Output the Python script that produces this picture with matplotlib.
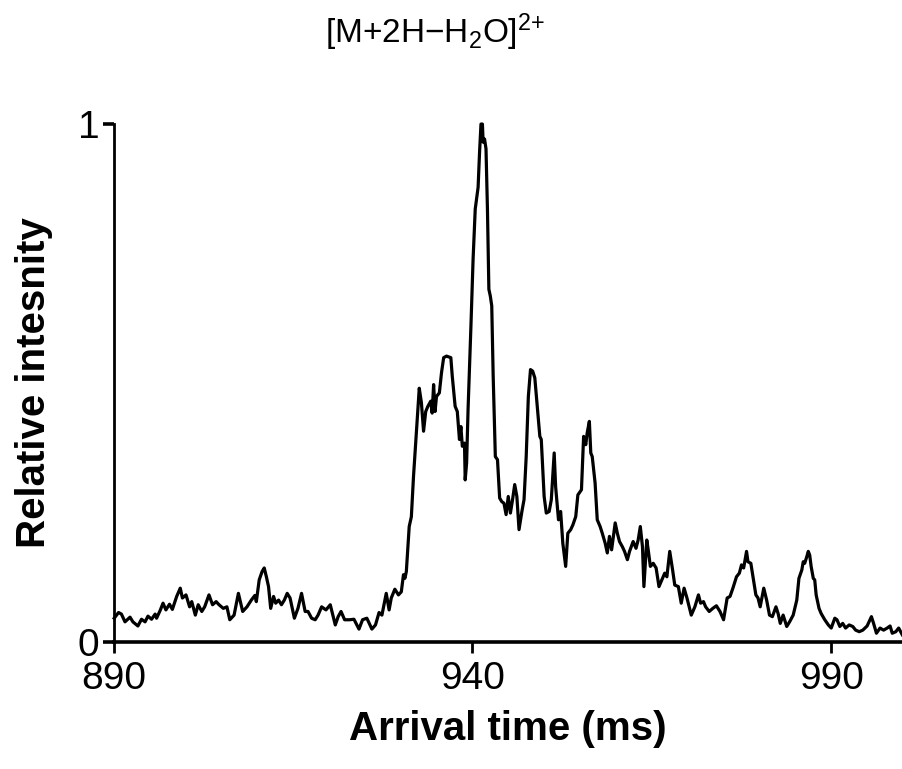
import matplotlib
matplotlib.use("Agg")
import matplotlib.pyplot as plt

plt.rcParams["font.family"] = ["Liberation Sans", "DejaVu Sans"]
plt.rcParams["mathtext.fontset"] = "custom"
plt.rcParams["mathtext.rm"] = "Liberation Sans"
plt.rcParams["mathtext.it"] = "Liberation Sans:italic"

# arrival time (ms) and relative intensity
arrival_time = [
    890.1, 890.7, 891.1, 891.6, 892.3, 892.7, 893.4, 893.9, 894.4, 894.8,
    895.3, 895.8, 896.0, 896.5, 896.9, 897.3, 897.8, 898.2, 898.8, 899.3,
    899.6, 900.1, 900.6, 900.9, 901.4, 901.8, 902.3, 902.7, 903.3, 903.8,
    904.3, 904.7, 905.3, 905.8, 906.2, 906.8, 907.4, 908.0, 908.6, 909.2,
    909.7, 909.9, 910.3, 910.7, 911.0, 911.3, 911.6, 911.9, 912.3, 912.6,
    913.0, 913.4, 913.8, 914.2, 914.6, 915.2, 915.7, 916.2, 916.7, 917.1,
    917.6, 918.1, 918.5, 919.0, 919.6, 920.2, 920.9, 921.3, 921.7, 922.2,
    922.9, 923.5, 924.2, 924.7, 925.3, 926.0, 926.5, 927.0, 927.4, 928.0,
    928.4, 928.7, 929.2, 929.7, 930.1, 930.4, 930.6, 930.8, 931.2, 931.5,
    931.8, 932.1, 932.6, 932.9, 933.2, 933.5, 933.8, 934.2, 934.4, 934.6,
    934.8, 935.0, 935.4, 935.7, 936.0, 936.4, 937.0, 937.2, 937.6, 937.9,
    938.2, 938.4, 938.6, 938.9, 939.0, 939.2, 939.4, 939.8, 940.1, 940.4,
    940.8, 941.0, 941.2, 941.4, 941.5, 941.7, 941.9, 942.1, 942.3, 942.5,
    942.7, 942.9, 943.2, 943.5, 943.8, 944.1, 944.4, 944.7, 945.0, 945.3,
    945.6, 945.9, 946.2, 946.5, 946.9, 947.2, 947.5, 947.8, 948.1, 948.4,
    948.7, 949.0, 949.4, 949.6, 950.0, 950.3, 950.7, 951.0, 951.4, 951.6,
    952.0, 952.3, 952.6, 953.0, 953.3, 953.7, 954.0, 954.4, 954.7, 955.2,
    955.5, 955.8, 956.0, 956.3, 956.5, 956.7, 957.1, 957.4, 957.8, 958.1,
    958.5, 958.8, 959.1, 959.4, 959.9, 960.2, 960.5, 960.9, 961.2, 961.6,
    961.9, 962.4, 962.8, 963.1, 963.4, 963.7, 963.9, 964.3, 964.5, 964.8,
    965.2, 965.6, 966.0, 966.4, 966.8, 967.1, 967.5, 967.9, 968.2, 968.7,
    969.1, 969.5, 969.9, 970.5, 971.0, 971.5, 971.8, 972.2, 972.5, 973.0,
    973.5, 974.0, 974.5, 975.0, 975.5, 975.9, 976.3, 976.8, 977.2, 977.5,
    977.8, 978.2, 978.4, 978.8, 979.1, 979.5, 979.8, 980.1, 980.6, 981.0,
    981.4, 981.8, 982.3, 982.6, 982.9, 983.3, 983.8, 984.2, 984.7, 985.2,
    985.5, 985.9, 986.1, 986.3, 986.6, 986.8, 987.0, 987.2, 987.5, 987.7,
    987.9, 988.3, 988.6, 989.1, 989.6, 990.0, 990.5, 990.8, 991.2, 991.6,
    992.0, 992.5, 993.0, 993.4, 993.9, 994.4, 995.0, 995.6, 995.9, 996.3,
    996.8, 997.3, 997.8, 998.2, 998.5, 999.0, 999.4, 999.9,
]
intensity = [
    0.046, 0.057, 0.054, 0.039, 0.048, 0.039, 0.031, 0.044, 0.039, 0.050,
    0.044, 0.054, 0.046, 0.061, 0.075, 0.062, 0.073, 0.063, 0.088, 0.104,
    0.085, 0.091, 0.068, 0.078, 0.052, 0.072, 0.059, 0.068, 0.091, 0.072,
    0.078, 0.072, 0.065, 0.068, 0.043, 0.052, 0.094, 0.059, 0.068, 0.081,
    0.090, 0.078, 0.120, 0.136, 0.143, 0.126, 0.107, 0.065, 0.088, 0.075,
    0.081, 0.072, 0.081, 0.094, 0.085, 0.046, 0.065, 0.094, 0.059, 0.059,
    0.046, 0.043, 0.052, 0.068, 0.062, 0.072, 0.033, 0.049, 0.059, 0.043,
    0.043, 0.044, 0.025, 0.043, 0.046, 0.025, 0.033, 0.057, 0.052, 0.094,
    0.062, 0.085, 0.102, 0.091, 0.097, 0.130, 0.123, 0.136, 0.223, 0.242,
    0.320, 0.384, 0.490, 0.462, 0.407, 0.445, 0.455, 0.465, 0.442, 0.497,
    0.445, 0.474, 0.481, 0.520, 0.549, 0.552, 0.549, 0.513, 0.455, 0.445,
    0.391, 0.416, 0.378, 0.384, 0.313, 0.346, 0.449, 0.610, 0.739, 0.836,
    0.878, 0.945, 1.000, 1.000, 0.965, 0.971, 0.952, 0.836, 0.681, 0.668,
    0.649, 0.513, 0.358, 0.352, 0.278, 0.271, 0.268, 0.246, 0.281, 0.249,
    0.275, 0.304, 0.281, 0.217, 0.252, 0.275, 0.358, 0.474, 0.526, 0.523,
    0.510, 0.462, 0.397, 0.391, 0.281, 0.249, 0.252, 0.275, 0.365, 0.300,
    0.236, 0.252, 0.191, 0.146, 0.210, 0.217, 0.226, 0.242, 0.284, 0.294,
    0.397, 0.381, 0.404, 0.426, 0.365, 0.358, 0.307, 0.236, 0.223, 0.210,
    0.191, 0.172, 0.204, 0.178, 0.230, 0.210, 0.194, 0.184, 0.175, 0.159,
    0.175, 0.194, 0.181, 0.197, 0.223, 0.184, 0.107, 0.197, 0.178, 0.146,
    0.152, 0.143, 0.107, 0.120, 0.133, 0.126, 0.175, 0.139, 0.110, 0.107,
    0.075, 0.104, 0.085, 0.052, 0.068, 0.091, 0.075, 0.078, 0.068, 0.059,
    0.065, 0.070, 0.059, 0.043, 0.085, 0.088, 0.104, 0.126, 0.133, 0.149,
    0.143, 0.175, 0.155, 0.152, 0.126, 0.091, 0.085, 0.068, 0.104, 0.081,
    0.052, 0.049, 0.068, 0.055, 0.036, 0.052, 0.030, 0.039, 0.052, 0.081,
    0.123, 0.139, 0.155, 0.152, 0.165, 0.175, 0.168, 0.146, 0.123, 0.120,
    0.091, 0.065, 0.055, 0.043, 0.033, 0.027, 0.046, 0.043, 0.030, 0.036,
    0.027, 0.033, 0.030, 0.023, 0.020, 0.023, 0.031, 0.049, 0.036, 0.017,
    0.027, 0.023, 0.027, 0.031, 0.017, 0.020, 0.027, 0.014,
]

x_ticks = [890, 940, 990]
y_ticks = [0, 1]
title = r"[M+2H$-$H$_2$O]$^{2{+}}$"

fig = plt.figure(figsize=(9.03, 7.69), dpi=100)
ax = fig.add_axes([0.1257, 0.1651, 0.8743, 0.6736])

ax.plot(arrival_time, intensity, color="black", linewidth=2.3,
        solid_joinstyle="round", clip_on=False)

ax.set_xlim(890, 1000)
ax.set_ylim(0, 1)
ax.set_xticks(x_ticks)
ax.set_yticks(y_ticks)
ax.set_yticklabels(["0", "1"])

for side in ["top", "right"]:
    ax.spines[side].set_visible(False)
ax.spines["left"].set_linewidth(2.0)
ax.spines["bottom"].set_linewidth(2.6)

ax.tick_params(axis="x", direction="out", length=8, width=2.0, labelsize=28, pad=6)
ax.tick_params(axis="y", direction="out", length=8, width=2.6, labelsize=28, pad=2)

ax.set_xlabel("Arrival time (ms)", fontsize=29, fontweight="bold", labelpad=9)
ax.set_ylabel("Relative intesnity", fontsize=29, fontweight="bold", labelpad=18)

fig.text(0.482, 0.944, title, fontsize=24, ha="center", va="baseline")

fig.savefig("out.png", dpi=100)
